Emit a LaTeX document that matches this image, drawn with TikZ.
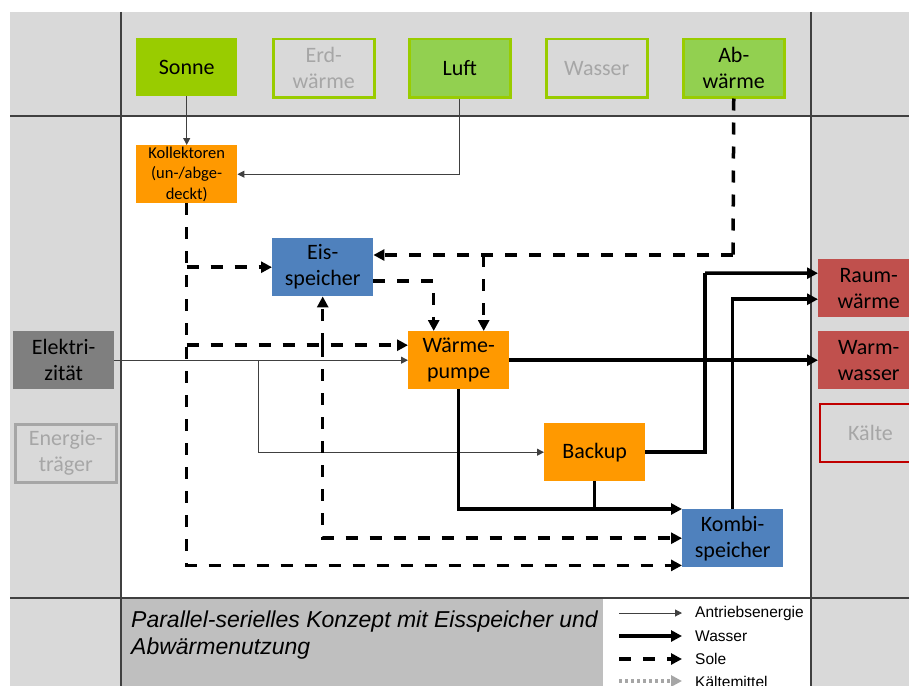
\documentclass[tikz,border=0pt]{standalone}
\usepackage{fontspec}
\setmainfont{Carlito}
\newfontfamily\arialfont{Liberation Sans}
\usetikzlibrary{arrows.meta,calc}
\definecolor{bggray}{HTML}{D9D9D9}
\definecolor{titlegray}{HTML}{BFBFBF}
\definecolor{sunG}{HTML}{99CC00}
\definecolor{lightG}{HTML}{92D050}
\definecolor{orng}{HTML}{FF9900}
\definecolor{blu}{HTML}{4F81BD}
\definecolor{redd}{HTML}{C0504D}
\definecolor{darkred}{HTML}{C00000}
\definecolor{elgray}{HTML}{7F7F7F}
\definecolor{txtgray}{HTML}{A6A6A6}
\definecolor{linegray}{HTML}{404040}
\tikzset{
  box/.style={minimum width=101pt, minimum height=58pt, inner sep=0pt, anchor=north west,
    align=center, font=\fontsize{22}{26}\selectfont},
  ghost/.style={box, draw=sunG, line width=2.5pt, fill=bggray, text=txtgray},
  frameline/.style={draw=linegray, line width=1.3pt},
  drive/.style={draw=linegray, line width=1pt, -{Triangle[length=7pt,width=7pt]}},
  drivebare/.style={draw=linegray, line width=1pt},
  water/.style={draw=black, line width=3.5pt, -{Triangle[length=11pt,width=11pt]}},
  waterbare/.style={draw=black, line width=3.5pt},
  sole/.style={draw=black, line width=3.5pt, dash pattern=on 12pt off 12pt, -{Triangle[length=11pt,width=11pt]}},
  solebare/.style={draw=black, line width=3.5pt, dash pattern=on 12pt off 12pt},
  cool/.style={draw=txtgray, line width=3.5pt, dash pattern=on 3pt off 3pt, -{Triangle[length=11pt,width=11pt]}},
  legtext/.style={anchor=west, inner sep=0pt, font=\arialfont\fontsize{15.5}{18}\selectfont},
  titletext/.style={anchor=base west, inner sep=0pt, font=\arialfont\itshape\fontsize{23}{27}\selectfont}
}
\begin{document}
\begin{tikzpicture}[x=1pt,y=-1pt]
\useasboundingbox (0,0) rectangle (909,685);
\clip (0,0) rectangle (909,685);
% regions
\fill[bggray] (10,12) rectangle (920,690);
\fill[white] (121,116) rectangle (811,598);
\fill[titlegray] (121,598) rectangle (603,690);
\fill[white] (603,598) rectangle (811,690);
\draw[frameline] (121,12) -- (121,690);
\draw[frameline] (811,12) -- (811,690);
\draw[frameline] (10,116) -- (920,116);
\draw[frameline] (10,598) -- (920,598);
% top sources
\node[box, fill=sunG] (sonne) at (136,38) {Sonne};
\node[ghost] (erd) at (272,38) {Erd-\\wärme};
\node[box, fill=lightG, draw=sunG, line width=2.5pt] (luft) at (408,38) {Luft};
\node[ghost] (wasser) at (545,38) {Wasser};
\node[box, fill=lightG, draw=sunG, line width=2.5pt] (abw) at (682,38) {Ab-\\wärme};
% components
\node[box, fill=orng, font=\fontsize{16.5}{20.5}\selectfont] (koll) at (136,145) {Kollektoren\\(un-/abge-\\deckt)};
\node[box, fill=blu] (eis) at (272,238) {Eis-\\speicher};
\node[box, fill=orng] (wp) at (408,331) {Wärme-\\pumpe};
\node[box, fill=orng] (backup) at (544,423) {Backup};
\node[box, fill=blu] (kombi) at (682,509) {Kombi-\\speicher};
% left column
\node[box, fill=elgray] (elek) at (13,331) {Elektri-\\zität};
\node[box, draw=txtgray, line width=2.5pt, fill=bggray, text=txtgray] (etr) at (14,423) {Energie-\\träger};
% right column
\node[box, fill=redd] (raum) at (818,259) {Raum-\\wärme};
\node[box, fill=redd] (warm) at (818,331) {Warm-\\wasser};
\node[box, draw=darkred, line width=2pt, fill=bggray, text=txtgray] (kaelte) at (819,403) {Kälte};
% helper coordinates
\coordinate (j1) at (733,255);
\coordinate (wpin1) at ([xshift=-25pt]wp.north);
\coordinate (wpin2) at ([xshift=25pt]wp.north);
\coordinate (wpl) at ([yshift=15pt]wp.west);
\coordinate (eisout) at ([yshift=-14pt]eis.east);
\coordinate (eb) at (258,360);
\coordinate (c705) at (705,273);
\coordinate (rw1) at ([yshift=15pt]raum.west);
\coordinate (rw2) at ([yshift=-11pt]raum.west);
\coordinate (kbot) at ([yshift=2pt]kombi.south west);
% drive energy
\draw[drive] (sonne.south) -- (koll.north);
\draw[drive] (luft.south) |- (koll.east);
\draw[drive] (elek.east) -- (wp.west);
\draw[drive] (eb) |- (backup.west);
% brine
\draw[solebare] (abw.south) -- (j1);
\draw[sole] (j1) -- (j1 -| eis.east);
\draw[sole] (j1 -| wpin2) -- (wpin2);
\draw[sole] (eisout) -| (wpin1);
\draw[sole] (koll.south) |- (kbot);
\draw[sole] (koll.south |- eis.west) -- (eis.west);
\draw[sole] (koll.south |- wpl) -- (wpl);
\draw[sole] (eis.south |- wpl) -- (eis.south);
\draw[sole] (eis.south |- wpl) |- (kombi.west);
% water
\draw[water] (wp.east) -- (warm.west);
\draw[waterbare] (backup.east) -| (c705);
\draw[water] (c705) -- (rw1);
\draw[water] (kombi.north) |- (rw2);
\draw[water] (wp.south) |- (kombi.north west);
\draw[waterbare] (backup.south) -- (backup.south |- kombi.north);
% title
\node[titletext] (t1) at (131,627) {Parallel-serielles Konzept mit Eisspeicher und};
\node[titletext] (t2) at (131,654) {Abwärmenutzung};
% legend
\coordinate (la1) at (619,613); \coordinate (lb1) at (682,613);
\coordinate (la2) at (619,636); \coordinate (lb2) at (682,636);
\coordinate (la3) at (619,659); \coordinate (lb3) at (682,659);
\coordinate (la4) at (619,681); \coordinate (lb4) at (682,681);
\draw[drive] (la1) -- (lb1);
\draw[water] (la2) -- (lb2);
\draw[sole] (la3) -- (lb3);
\draw[cool] (la4) -- (lb4);
\node[legtext] (l1) at (695,613) {Antriebsenergie};
\node[legtext] (l2) at (695,636) {Wasser};
\node[legtext] (l3) at (695,659) {Sole};
\node[legtext] (l4) at (695,682) {Kältemittel};
\end{tikzpicture}
\end{document}
